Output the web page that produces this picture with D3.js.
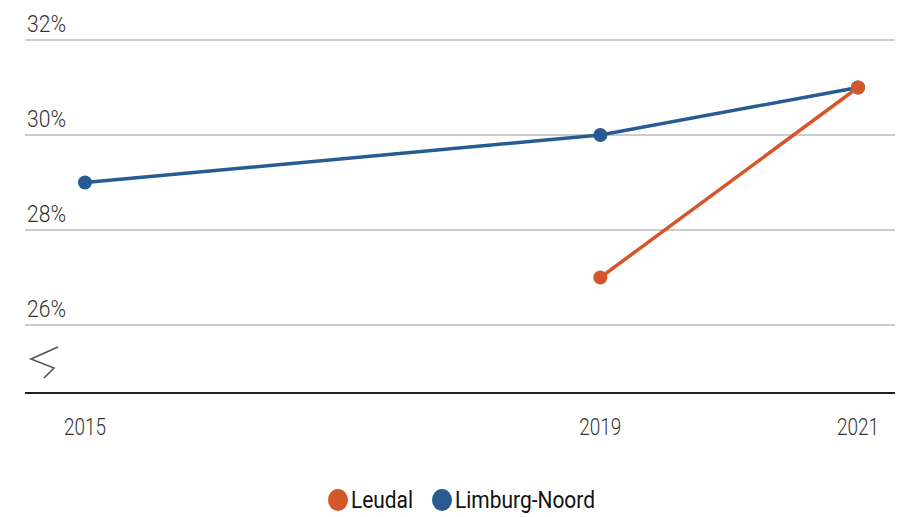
<!DOCTYPE html>
<meta charset="utf-8">
<head>
<script src="https://cdn.jsdelivr.net/npm/d3@7"></script>
<style>
body { margin: 0; background: #fff; }
text { font-family: "Roboto", "Noto Sans", sans-serif; }
</style>
</head>
<body>
<div id="chart"></div>
<script>
// data
var years = [2015, 2019, 2021];
var yTicks = [26, 28, 30, 32];
var leudal = [null, 27, 31];
var limburgNoord = [29, 30, 31];
var seriesNames = ["Leudal", "Limburg-Noord"];
var seriesColors = ["#d4572a", "#275b91"];

var width = 907, height = 517;

var svg = d3.select("#chart").append("svg")
    .attr("width", width)
    .attr("height", height);

var x = d3.scaleLinear().domain([2015, 2021]).range([85, 858]);
var y = d3.scaleLinear().domain([26, 32]).range([325, 40]);

// gridlines
svg.selectAll(".grid")
    .data(yTicks)
    .enter().append("line")
    .attr("x1", 25).attr("x2", 895)
    .attr("y1", function(d) { return y(d); })
    .attr("y2", function(d) { return y(d); })
    .style("stroke", "#cccccc")
    .style("stroke-width", 2);

// condensed look: squeeze text to the width seen in the picture
svg.selectAll(".ylab")
    .data(yTicks)
    .enter().append("text")
    .attr("x", 27)
    .attr("y", function(d) { return y(d) - 8; })
    .attr("textLength", 39)
    .attr("lengthAdjust", "spacingAndGlyphs")
    .style("font-size", "23px")
    .style("font-weight", 300)
    .style("fill", "#333")
    .text(function(d) { return d + "%"; });

// axis break symbol
svg.append("path")
    .attr("d", "M58,347 L31,359 L54,368 L44,378")
    .style("fill", "none")
    .style("stroke", "#555")
    .style("stroke-width", 1.6);

// baseline
svg.append("line")
    .attr("x1", 25).attr("x2", 895)
    .attr("y1", 393).attr("y2", 393)
    .style("stroke", "#222")
    .style("stroke-width", 2);

svg.selectAll(".xlab")
    .data(years)
    .enter().append("text")
    .attr("x", function(d) { return x(d) - 21; })
    .attr("y", 435)
    .attr("textLength", 42)
    .attr("lengthAdjust", "spacingAndGlyphs")
    .style("font-size", "23px")
    .style("font-weight", 300)
    .style("fill", "#333")
    .text(function(d) { return d; });

var allSeries = [limburgNoord, leudal];
var allColors = [seriesColors[1], seriesColors[0]];

var line = d3.line()
    .defined(function(d) { return d != null; })
    .x(function(d, i) { return x(years[i]); })
    .y(function(d) { return y(d); });

allSeries.forEach(function(vals, k) {
  svg.append("path")
      .datum(vals)
      .attr("d", line)
      .style("fill", "none")
      .style("stroke", allColors[k])
      .style("stroke-width", 3.5);

  svg.selectAll(".pt" + k)
      .data(vals.map(function(v, i) { return {v: v, yr: years[i]}; }).filter(function(d) { return d.v != null; }))
      .enter().append("circle")
      .attr("cx", function(d) { return x(d.yr); })
      .attr("cy", function(d) { return y(d.v); })
      .attr("r", 7)
      .style("fill", allColors[k]);
});

// legend
var legendX = [338, 442];
var legendW = [62, 140];
seriesNames.forEach(function(name, i) {
  svg.append("ellipse")
      .attr("cx", legendX[i])
      .attr("cy", 500)
      .attr("rx", 10)
      .attr("ry", 11)
      .style("fill", seriesColors[i]);
  svg.append("text")
      .attr("x", legendX[i] + 13)
      .attr("y", 508)
      .attr("textLength", legendW[i])
      .attr("lengthAdjust", "spacingAndGlyphs")
      .style("font-size", "23px")
      .style("fill", "#111")
      .text(name);
});
</script>
</body>
